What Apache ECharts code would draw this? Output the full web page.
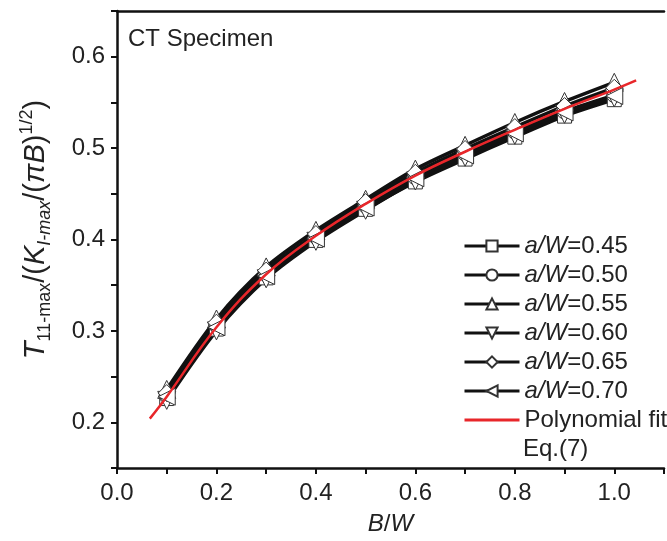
<!DOCTYPE html>
<html>
<head>
<meta charset="utf-8">
<script src="https://cdn.jsdelivr.net/npm/echarts@6/dist/echarts.min.js"></script>
<style>
  html, body { margin: 0; padding: 0; background: #fff; }
  #chart { width: 667px; height: 541px; }
</style>
</head>
<body>
<div id="chart"></div>
<script>
const ratioBW = [0.1, 0.2, 0.3, 0.4, 0.5, 0.6, 0.7, 0.8, 0.9, 1.0];
const aw045 = [0.226, 0.302, 0.358, 0.399, 0.433, 0.463, 0.488, 0.512, 0.535, 0.553];
const aw050 = [0.229, 0.306, 0.362, 0.403, 0.437, 0.468, 0.494, 0.518, 0.540, 0.558];
const aw055 = [0.236, 0.313, 0.370, 0.410, 0.444, 0.477, 0.503, 0.528, 0.551, 0.572];
const aw060 = [0.224, 0.300, 0.357, 0.398, 0.432, 0.464, 0.490, 0.514, 0.537, 0.555];
const aw065 = [0.232, 0.309, 0.366, 0.406, 0.441, 0.473, 0.499, 0.523, 0.546, 0.566];
const aw070 = [0.228, 0.304, 0.360, 0.401, 0.435, 0.467, 0.492, 0.516, 0.539, 0.557];
const fitX = [0.066, 0.1, 0.2, 0.3, 0.4, 0.5, 0.6, 0.7, 0.8, 0.9, 1.0, 1.044];
const fitY = [0.204, 0.228, 0.304, 0.362, 0.404, 0.439, 0.470, 0.496, 0.520, 0.543, 0.564, 0.574];

const font = 'Liberation Sans, Arial, sans-serif';
const zip = (xs, ys) => xs.map((x, i) => [x, ys[i]]);

const markerSeries = [
  { name: 'a/W=0.45', data: aw045, symbol: 'rect', size: 14 },
  { name: 'a/W=0.50', data: aw050, symbol: 'circle', size: 15 },
  { name: 'a/W=0.55', data: aw055, symbol: 'triangle', size: 18 },
  { name: 'a/W=0.60', data: aw060, symbol: 'path://M0,0 L10,0 L5,9 Z', size: 18 },
  { name: 'a/W=0.65', data: aw065, symbol: 'diamond', size: 17 },
  { name: 'a/W=0.70', data: aw070, symbol: 'path://M9,0 L9,10 L0,5 Z', size: 17 }
].map(s => ({
  name: s.name,
  type: 'line',
  data: zip(ratioBW, s.data),
  smooth: 0.3,
  symbol: s.symbol,
  symbolSize: s.size,
  lineStyle: { color: '#111', width: 3.5 },
  itemStyle: { color: '#fff', borderColor: '#333', borderWidth: 1 },
  z: 3
}));

const legendNames = markerSeries.map(s => ({ name: s.name }))
  .concat([{ name: 'Polynomial fit', itemStyle: { opacity: 0 } }]);

const chart = echarts.init(document.getElementById('chart'));
chart.setOption({
  animation: false,
  grid: { left: 117, top: 11, right: 0, bottom: 71 },
  xAxis: [{
    type: 'value', min: 0, max: 1.1, interval: 0.1,
    name: '{i|B}/{i|W}', nameLocation: 'middle', nameGap: 44,
    nameTextStyle: { fontFamily: font, fontSize: 24, color: '#222', rich: { i: { fontStyle: 'italic', fontSize: 24, fontFamily: font } } },
    axisLine: { lineStyle: { color: '#111', width: 2.5 } },
    axisTick: { inside: false, length: 6, lineStyle: { width: 2, color: '#111' } },
    splitLine: { show: false },
    axisLabel: {
      margin: 13, fontSize: 24, fontFamily: font, color: '#222',
      formatter: v => (Math.round(v * 10) % 2 === 0 && v < 1.05) ? v.toFixed(1) : ''
    }
  }, {
    type: 'value', position: 'top', min: 0, max: 1.1,
    axisLine: { lineStyle: { color: '#111', width: 2.5 } },
    axisTick: { show: false }, axisLabel: { show: false }, splitLine: { show: false }
  }],
  yAxis: {
    type: 'value', min: 0.15, max: 0.65, interval: 0.05,
    name: '{i|T}{sub|11-max}/({i|K}{isub|I-max}/({i|πB}){sup|1/2})',
    nameLocation: 'middle', nameGap: 63, nameRotate: 90,
    nameTextStyle: {
      fontFamily: font, fontSize: 29, color: '#222', lineHeight: 36,
      padding: [0, 0, 0, 20],
      rich: {
        i: { fontStyle: 'italic', fontSize: 29, fontFamily: font, lineHeight: 36 },
        sub: { fontSize: 18, fontFamily: font, verticalAlign: 'bottom', lineHeight: 20 },
        isub: { fontSize: 18, fontStyle: 'italic', fontFamily: font, verticalAlign: 'bottom', lineHeight: 20 },
        sup: { fontSize: 18, fontFamily: font, verticalAlign: 'top', lineHeight: 20 }
      }
    },
    axisLine: { show: true, lineStyle: { color: '#111', width: 2.5 } },
    axisTick: { show: true, inside: false, length: 6, lineStyle: { width: 2, color: '#111' } },
    splitLine: { show: false },
    axisLabel: {
      margin: 12, fontSize: 24, fontFamily: font, color: '#222',
      formatter: v => Math.round(v * 100) % 10 === 0 ? v.toFixed(1) : ''
    }
  },
  legend: {
    orient: 'vertical', left: 458, top: 229,
    itemWidth: 55, itemHeight: 14, itemGap: 5,
    data: legendNames,
    lineStyle: { width: 3 },
    formatter: n => n.indexOf('a/W') === 0 ? '{i|a/W}' + n.slice(3) : n,
    textStyle: {
      fontFamily: font, fontSize: 24, color: '#222', lineHeight: 22,
      rich: { i: { fontStyle: 'italic', fontFamily: font, fontSize: 24, lineHeight: 22 } }
    }
  },
  graphic: [
    { type: 'text', left: 128, top: 27, style: { text: 'CT Specimen', font: '24px ' + font, fill: '#222' } },
    { type: 'text', left: 523, top: 437, style: { text: 'Eq.(7)', font: '24px ' + font, fill: '#222' } }
  ],
  series: markerSeries.concat([{
    name: 'Polynomial fit',
    type: 'line',
    data: zip(fitX, fitY),
    smooth: 0.4,
    symbol: 'none',
    lineStyle: { color: '#e8262a', width: 2.5 },
    itemStyle: { color: '#e8262a' },
    z: 5
  }])
});
</script>
</body>
</html>
